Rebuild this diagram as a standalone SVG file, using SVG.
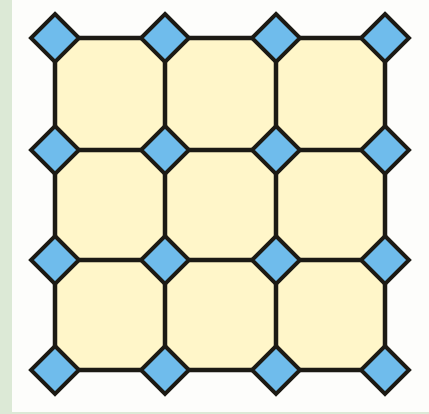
<svg xmlns="http://www.w3.org/2000/svg" width="429" height="414" viewBox="0 0 429 414">
<style>
.edge{stroke:#1c1a14;stroke-width:4.5;stroke-linecap:butt;fill:none}
.node{fill:#6fbcec;stroke:#1c1a14;stroke-width:4;stroke-linejoin:miter}
</style>
<defs>
<path id="d" class="node" d="M0,-24 L24,0 L0,24 L-24,0 Z"/>
</defs>
<rect x="0" y="0" width="429" height="414" fill="#fdfdfb"/>
<rect x="0" y="0" width="12" height="414" fill="#dce9d6"/>
<rect x="0" y="412" width="429" height="2" fill="#dce9d6"/>
<rect x="55" y="38" width="330" height="332" fill="#fff6c9"/>
<g id="connectors">
<line class="edge" x1="55" y1="38" x2="385" y2="38"/>
<line class="edge" x1="55" y1="150" x2="385" y2="150"/>
<line class="edge" x1="55" y1="260" x2="385" y2="260"/>
<line class="edge" x1="55" y1="370" x2="385" y2="370"/>
<line class="edge" x1="55" y1="38" x2="55" y2="370"/>
<line class="edge" x1="165" y1="38" x2="165" y2="370"/>
<line class="edge" x1="276" y1="38" x2="276" y2="370"/>
<line class="edge" x1="385" y1="38" x2="385" y2="370"/>
</g>
<g id="n11"><use href="#d" x="55" y="38"/></g>
<g id="n12"><use href="#d" x="165" y="38"/></g>
<g id="n13"><use href="#d" x="276" y="38"/></g>
<g id="n14"><use href="#d" x="385" y="38"/></g>
<g id="n21"><use href="#d" x="55" y="150"/></g>
<g id="n22"><use href="#d" x="165" y="150"/></g>
<g id="n23"><use href="#d" x="276" y="150"/></g>
<g id="n24"><use href="#d" x="385" y="150"/></g>
<g id="n31"><use href="#d" x="55" y="260"/></g>
<g id="n32"><use href="#d" x="165" y="260"/></g>
<g id="n33"><use href="#d" x="276" y="260"/></g>
<g id="n34"><use href="#d" x="385" y="260"/></g>
<g id="n41"><use href="#d" x="55" y="370"/></g>
<g id="n42"><use href="#d" x="165" y="370"/></g>
<g id="n43"><use href="#d" x="276" y="370"/></g>
<g id="n44"><use href="#d" x="385" y="370"/></g>
</svg>
